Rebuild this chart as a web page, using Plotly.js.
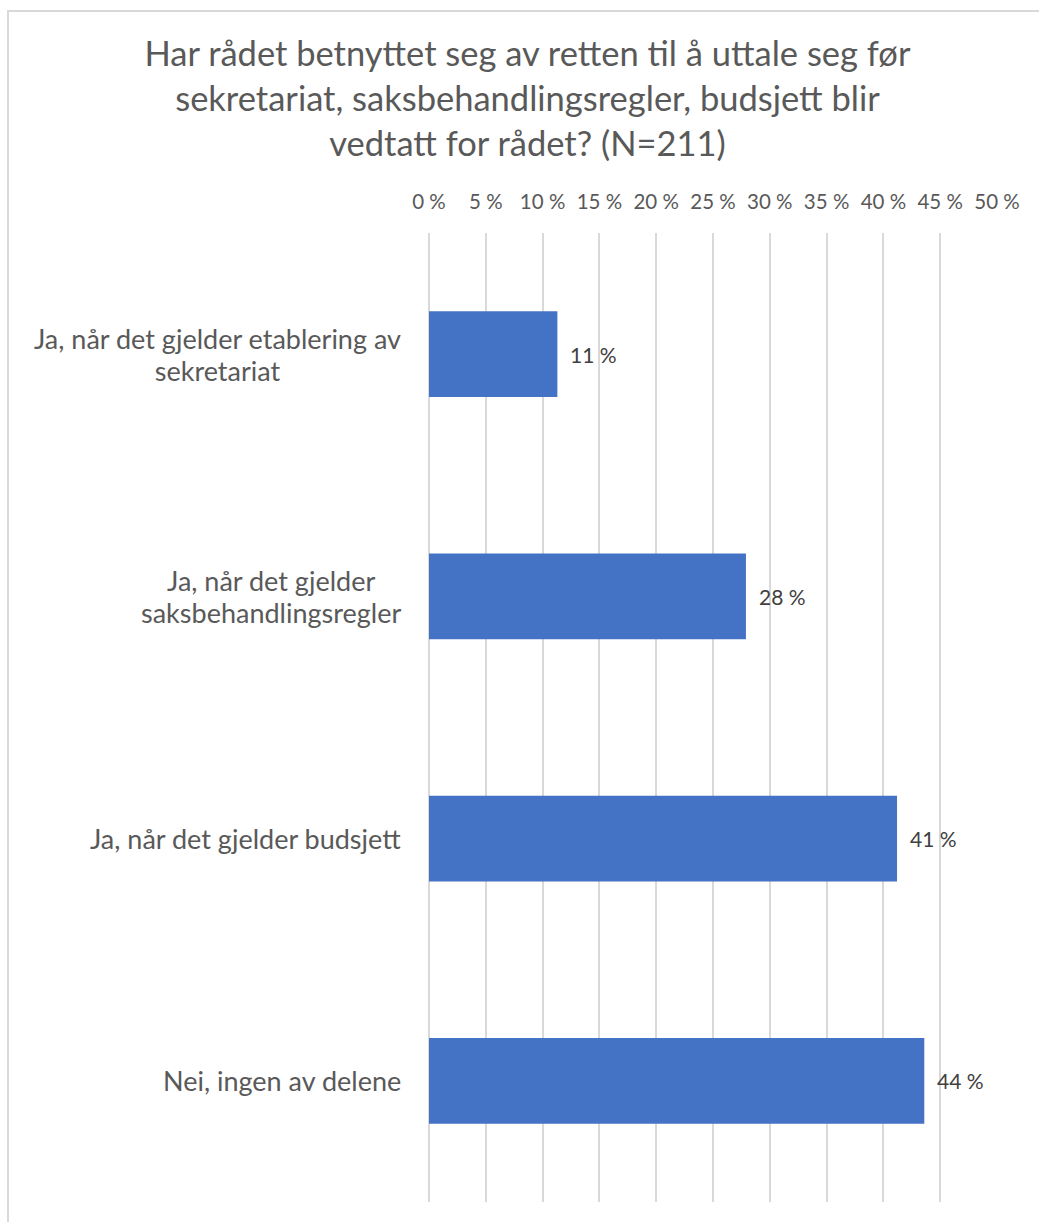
<!DOCTYPE html>
<html><head><meta charset="utf-8">
<script src="https://cdn.plot.ly/plotly-3.0.1.min.js"></script>
<style>
html,body{margin:0;padding:0;background:#fff;overflow:hidden;width:1039px;height:1222px;}
#frame{position:absolute;left:7px;top:10px;width:1100px;height:1300px;border-left:2px solid #d9d9d9;border-top:2px solid #d9d9d9;}
#chart{position:absolute;left:0;top:0;}
</style></head><body>
<div id="frame"><div id="chart"></div></div>
<script>
const categories = [
  "Ja, når det gjelder etablering av sekretariat",
  "Ja, når det gjelder saksbehandlingsregler",
  "Ja, når det gjelder budsjett",
  "Nei, ingen av delene"
];
const categoryLabels = [
  "Ja, når det gjelder etablering av<br>sekretariat",
  "Ja, når det gjelder<br>saksbehandlingsregler",
  "Ja, når det gjelder budsjett",
  "Nei, ingen av delene"
];
const values = [11.3, 27.9, 41.2, 43.6];
const tickValues = [0, 5, 10, 15, 20, 25, 30, 35, 40, 45, 50];
const tickLabels = tickValues.map(v => v + " %");
const titleLines = [
  "Har rådet betnyttet seg av retten til å uttale seg før",
  "sekretariat, saksbehandlingsregler, budsjett blir",
  "vedtatt for rådet? (N=211)"
];

const FONT = "Lato, 'Open Sans', sans-serif";
const grey = "#595959";

const wrap = (s, px) => s.split("<br>").map(l => `<span style="font-size:${px}px">${l}</span>`).join("<br>");

const annotations = [];
categories.forEach((c, i) => {
  annotations.push({
    x: 0, xref: "paper", y: c, yref: "y",
    text: wrap(categoryLabels[i], 27),
    xanchor: "right", yanchor: "middle", align: "center",
    xshift: -26, showarrow: false,
    font: {family: FONT, size: 24.6, color: grey}
  });
  annotations.push({
    x: values[i], xref: "x", y: c, yref: "y",
    text: Math.round(values[i]) + " %",
    xanchor: "left", yanchor: "middle", xshift: 11, showarrow: false,
    font: {family: FONT, size: 21, color: "#404040"}
  });
});

const data = [{
  type: "bar", orientation: "h",
  x: values, y: categories,
  marker: {color: "#4472C4"},
  width: 0.355,
  hoverinfo: "none"
}];

const layout = {
  width: 1037, height: 1210,
  margin: {l: 420, r: 49, t: 221, b: 20},
  paper_bgcolor: "#fff", plot_bgcolor: "#fff",
  showlegend: false,
  font: {family: FONT, color: grey},
  title: {
    text: titleLines.join("<br>"),
    font: {family: FONT, size: 34.5, color: grey},
    x: 0.5, xanchor: "center", xref: "container",
    y: 1 - 54/1210, yanchor: "top", yref: "container"
  },
  xaxis: {
    side: "top", range: [0, 50], tickmode: "array",
    tickvals: tickValues, ticktext: tickLabels,
    showgrid: true, gridcolor: "#d9d9d9", gridwidth: 2,
    zeroline: true, zerolinecolor: "#d9d9d9", zerolinewidth: 2,
    showline: false, ticks: "", ticklabelstandoff: 19,
    tickfont: {family: FONT, size: 20.5, color: grey},
    fixedrange: true
  },
  yaxis: {
    type: "category", categoryorder: "array", categoryarray: categories,
    autorange: "reversed", showticklabels: false, showgrid: false,
    zeroline: false, showline: false, ticks: "", fixedrange: true
  },
  annotations: annotations
};

Plotly.newPlot("chart", data, layout, {displayModeBar: false, staticPlot: true});
</script>
</body></html>
